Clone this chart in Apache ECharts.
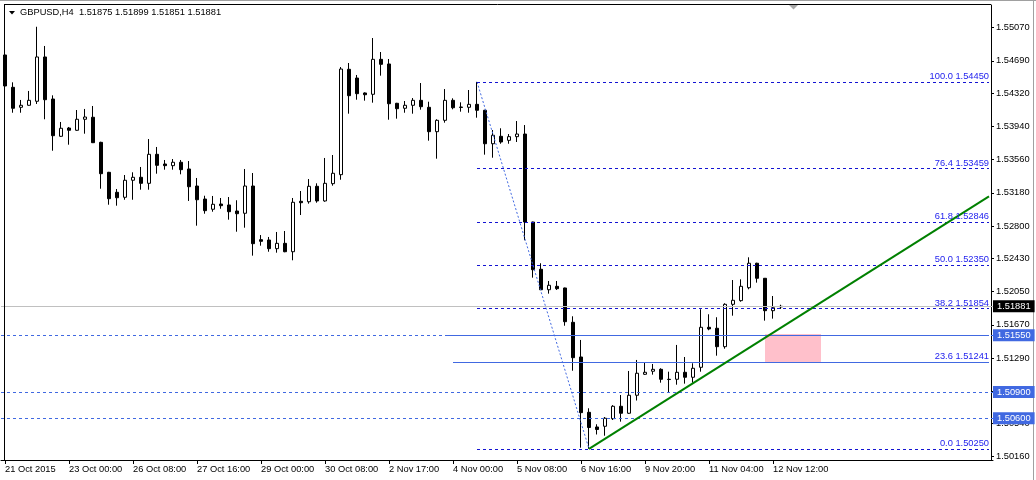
<!DOCTYPE html>
<html><head><meta charset="utf-8">
<script src="https://cdn.jsdelivr.net/npm/echarts@6/dist/echarts.min.js"></script>
<style>html,body{margin:0;padding:0;background:#fff}#c{width:1036px;height:480px}</style>
</head><body><div id="c"></div>
<script>
const symbolTitle = 'GBPUSD,H4  1.51875 1.51899 1.51851 1.51881';
const xTickLabels = ['21 Oct 2015','23 Oct 00:00','26 Oct 08:00','27 Oct 16:00','29 Oct 00:00','30 Oct 08:00','2 Nov 17:00','4 Nov 00:00','5 Nov 08:00','6 Nov 16:00','9 Nov 20:00','11 Nov 04:00','12 Nov 12:00'];
const yTickValues = [1.50160,1.50540,1.50910,1.51290,1.51670,1.52050,1.52430,1.52800,1.53180,1.53560,1.53940,1.54320,1.54690,1.55070];

const candleOpen = [1.54758,1.54388,1.54159,1.54182,1.54228,1.54735,1.54254,1.53827,1.53922,1.53896,
1.54022,1.54045,1.53758,1.53415,1.53186,1.53129,1.53324,1.53358,1.53289,1.53621,
1.53510,1.53491,1.53530,1.53453,1.53258,1.53109,1.52992,1.53052,1.53041,1.52972,
1.52946,1.53258,1.52644,1.52640,1.52541,1.52602,1.52506,1.53083,1.53078,1.53255,
1.53087,1.53285,1.53388,1.54594,1.54494,1.54323,1.54308,1.54708,1.54655,1.54205,
1.54148,1.54182,1.54239,1.54159,1.53880,1.54010,1.54239,1.54162,1.54159,1.54193,
1.54125,1.53742,1.53827,1.53781,1.53823,1.53853,1.52846,1.52305,1.52071,1.52110,
1.52091,1.51698,1.51301,1.50668,1.50500,1.50508,1.50595,1.50737,1.50657,1.50863,
1.51103,1.51138,1.51160,1.51046,1.51046,1.51126,1.51069,1.51183,1.51641,1.51630,
1.51419,1.51904,1.51946,1.52094,1.52374,1.52202,1.51831,1.51875];
const candleHigh = [1.54770,1.54445,1.54243,1.54346,1.55081,1.54861,1.54296,1.53991,1.53934,1.54128,
1.54140,1.54174,1.53765,1.53420,1.53224,1.53384,1.53415,1.53476,1.53796,1.53705,
1.53556,1.53567,1.53556,1.53544,1.53350,1.53147,1.53144,1.53121,1.53132,1.53095,
1.53453,1.53407,1.52697,1.52675,1.52732,1.52743,1.53121,1.53201,1.53338,1.53289,
1.53579,1.53613,1.54620,1.54666,1.54529,1.54330,1.54952,1.54792,1.54712,1.54210,
1.54231,1.54265,1.54437,1.54223,1.54022,1.54368,1.54262,1.54216,1.54357,1.54450,
1.54130,1.53899,1.53919,1.53853,1.54002,1.53956,1.52850,1.52374,1.52171,1.52171,
1.52095,1.51767,1.51496,1.50714,1.50531,1.50614,1.50750,1.50866,1.51141,1.51267,
1.51236,1.51221,1.51172,1.51133,1.51439,1.51301,1.51229,1.51847,1.51790,1.51756,
1.51916,1.52182,1.52190,1.52442,1.52380,1.52205,1.51999,1.51899];
const candleLow = [1.54323,1.54097,1.54097,1.54178,1.54197,1.54022,1.53662,1.53820,1.53731,1.53890,
1.53857,1.53750,1.53227,1.53044,1.53033,1.53101,1.53101,1.53216,1.53216,1.53399,
1.53445,1.53445,1.53392,1.53087,1.52804,1.52941,1.52964,1.52998,1.52873,1.52735,
1.52781,1.52461,1.52575,1.52506,1.52495,1.52500,1.52408,1.52926,1.53056,1.53067,
1.53078,1.53262,1.53330,1.54086,1.54246,1.54235,1.54212,1.54521,1.54017,1.54029,
1.54097,1.54086,1.54132,1.53777,1.53571,1.53983,1.54136,1.54109,1.54097,1.54040,
1.53617,1.53582,1.53742,1.53742,1.53762,1.52637,1.52209,1.52068,1.52026,1.52068,
1.51659,1.51144,1.50263,1.50250,1.50414,1.50400,1.50580,1.50561,1.50650,1.50803,
1.51095,1.51099,1.51007,1.50889,1.50984,1.50996,1.51007,1.51133,1.51607,1.51316,
1.51396,1.51774,1.51934,1.52076,1.52152,1.51717,1.51740,1.51851];
const candleClose = [1.54403,1.54148,1.54182,1.54239,1.54735,1.54246,1.53834,1.53919,1.53896,1.54022,
1.54048,1.53754,1.53399,1.53113,1.53124,1.53324,1.53358,1.53289,1.53621,1.53495,
1.53491,1.53530,1.53445,1.53250,1.53101,1.52976,1.53049,1.53033,1.52964,1.52941,
1.53258,1.52598,1.52625,1.52541,1.52602,1.52506,1.53072,1.53067,1.53255,1.53087,
1.53289,1.53404,1.54597,1.54292,1.54315,1.54303,1.54708,1.54651,1.54200,1.54143,
1.54182,1.54239,1.54166,1.53880,1.54010,1.54239,1.54154,1.54158,1.54193,1.54125,
1.53742,1.53839,1.53762,1.53823,1.53853,1.52846,1.52300,1.52071,1.52122,1.52083,
1.51705,1.51293,1.50664,1.50494,1.50471,1.50600,1.50737,1.50657,1.50863,1.51115,
1.51126,1.51160,1.51046,1.51043,1.51126,1.51069,1.51172,1.51641,1.51622,1.51419,
1.51904,1.51950,1.52110,1.52374,1.52202,1.51831,1.51865,1.51881];

const fibLevels = ['0.0','23.6','38.2','50.0','61.8','76.4','100.0'];
const fibPrices = [1.50250,1.51241,1.51854,1.52350,1.52846,1.53459,1.54450];
const fibHighIndex = 59, fibLowIndex = 73;
const currentPrice = 1.51881;
const priceLines = [1.51550, 1.50900, 1.50600];
const solidLineStarts = [55, 56];
const solidLinePrices = [1.51550, 1.51241];
const trendFrom = [73, 1.50250];
const trendTo = [123, 1.53140];
const zoneFrom = [95, 1.51565];
const zoneTo = [102, 1.51241];
const slotCount = 124;

const FONT = "'Liberation Sans', Arial, sans-serif";
const FS = 9.3;
const ohlc = candleOpen.map((o, i) => [o, candleClose[i], candleLow[i], candleHigh[i]]);
const categories = Array.from({length: slotCount}, (_, i) => String(i));
const lastSlot = slotCount - 1;
const tickShown = i => i % 8 === 0 && i / 8 < xTickLabels.length;

const mlData = [];
// Fibonacci diagonal
mlData.push([{coord: [fibHighIndex, fibPrices[6]]}, {coord: [fibLowIndex, fibPrices[0]],
  lineStyle: {color: '#4169e1', type: [2, 2], width: 1}}]);
// Fibonacci levels
fibPrices.forEach((p, k) => {
  mlData.push([{coord: [fibHighIndex, p]}, {coord: [lastSlot, p],
    lineStyle: {color: '#1414d2', type: [3, 3], width: 1},
    label: {show: true, position: 'insideEndTop', formatter: fibLevels[k] + ' ' + p.toFixed(5),
      color: '#2222ee', fontSize: FS, fontFamily: FONT, distance: [0, 1]}}]);
});
// solid horizontal lines
solidLinePrices.forEach((p, k) => {
  mlData.push([{coord: [solidLineStarts[k], p]}, {coord: [lastSlot, p],
    lineStyle: {color: '#4169e1', type: 'solid', width: 1}}]);
});
// full-width price lines with axis boxes
priceLines.forEach(p => {
  mlData.push({yAxis: p, lineStyle: {color: '#4169e1', type: [3, 3], width: 1},
    label: {show: true, position: 'end', distance: 0, formatter: p.toFixed(5), color: '#fff',
      backgroundColor: '#4169e1', padding: [1, 4, 1, 4], lineHeight: 10, fontSize: FS, fontFamily: FONT}});
});
// current price line
mlData.push({yAxis: currentPrice, lineStyle: {color: '#c0c0c0', type: 'solid', width: 1},
  label: {show: true, position: 'end', distance: 0, formatter: currentPrice.toFixed(5), color: '#fff',
    backgroundColor: '#000', padding: [1, 4, 1, 4], lineHeight: 10, fontSize: FS, fontFamily: FONT}});
// green trend line
mlData.push([{coord: trendFrom}, {coord: trendTo, lineStyle: {color: '#008000', type: 'solid', width: 2}}]);

const option = {
  animation: false,
  backgroundColor: '#fff',
  textStyle: {fontFamily: FONT},
  title: {text: symbolTitle, left: 20, top: 8, padding: 0,
    textStyle: {fontSize: FS, fontWeight: 'normal', color: '#000', fontFamily: FONT}},
  grid: {left: 1, top: 5, width: 992, height: 455, containLabel: false, outerBoundsMode: 'none'},
  xAxis: {
    type: 'category', data: categories, boundaryGap: true,
    axisLine: {show: true, lineStyle: {color: '#000', width: 1}},
    axisTick: {show: true, alignWithLabel: true, interval: i => tickShown(i), length: 4, lineStyle: {color: '#000'}},
    axisLabel: {show: true, interval: i => tickShown(i), formatter: (v, i) => xTickLabels[i / 8] || '',
      align: 'left', margin: 5, fontSize: FS, color: '#000', fontFamily: FONT, hideOverlap: false},
    splitLine: {show: false}
  },
  yAxis: {
    type: 'value', position: 'right', offset: -2, min: 1.50122, max: 1.55330,
    axisLine: {show: true, lineStyle: {color: '#000', width: 1}},
    axisTick: {show: true, length: 3, customValues: yTickValues, lineStyle: {color: '#000'}},
    axisLabel: {show: true, customValues: yTickValues, formatter: v => v.toFixed(5), margin: 5,
      fontSize: FS, color: '#000', fontFamily: FONT, hideOverlap: false},
    splitLine: {show: false}
  },
  series: [{
    type: 'candlestick',
    data: ohlc,
    barWidth: 4,
    itemStyle: {color: '#fff', color0: '#000', borderColor: '#000', borderColor0: '#000', borderColorDoji: '#000', borderWidth: 1},
    emphasis: {disabled: true},
    markArea: {silent: true, data: [[{coord: zoneFrom, itemStyle: {color: '#ffc0cb', opacity: 1}}, {coord: zoneTo}]]},
    markLine: {silent: true, precision: 5, symbol: ['none', 'none'], animation: false, data: mlData,
      label: {show: false}, emphasis: {disabled: true}}
  }],
  graphic: [
    {type: 'line', shape: {x1: 4, y1: 4.5, x2: 991, y2: 4.5}, style: {stroke: '#000', lineWidth: 1}, z: 10, silent: true},
    {type: 'line', shape: {x1: 4.5, y1: 4, x2: 4.5, y2: 460}, style: {stroke: '#000', lineWidth: 1}, z: 10, silent: true},
    {type: 'line', shape: {x1: 0, y1: 0.5, x2: 1036, y2: 0.5}, style: {stroke: '#a0a0a0', lineWidth: 1}, silent: true},
    {type: 'line', shape: {x1: 1033.5, y1: 0, x2: 1033.5, y2: 480}, style: {stroke: '#a0a0a0', lineWidth: 1}, silent: true},
    {type: 'polygon', shape: {points: [[9, 11], [15, 11], [12, 14.5]]}, style: {fill: '#000'}, silent: true},
    {type: 'polygon', shape: {points: [[789, 5], [798, 5], [793.5, 9.5]]}, style: {fill: '#a8a8a8'}, silent: true}
  ]
};
const chart = echarts.init(document.getElementById('c'), null, {renderer: 'canvas'});
chart.setOption(option);
</script>
</body></html>
